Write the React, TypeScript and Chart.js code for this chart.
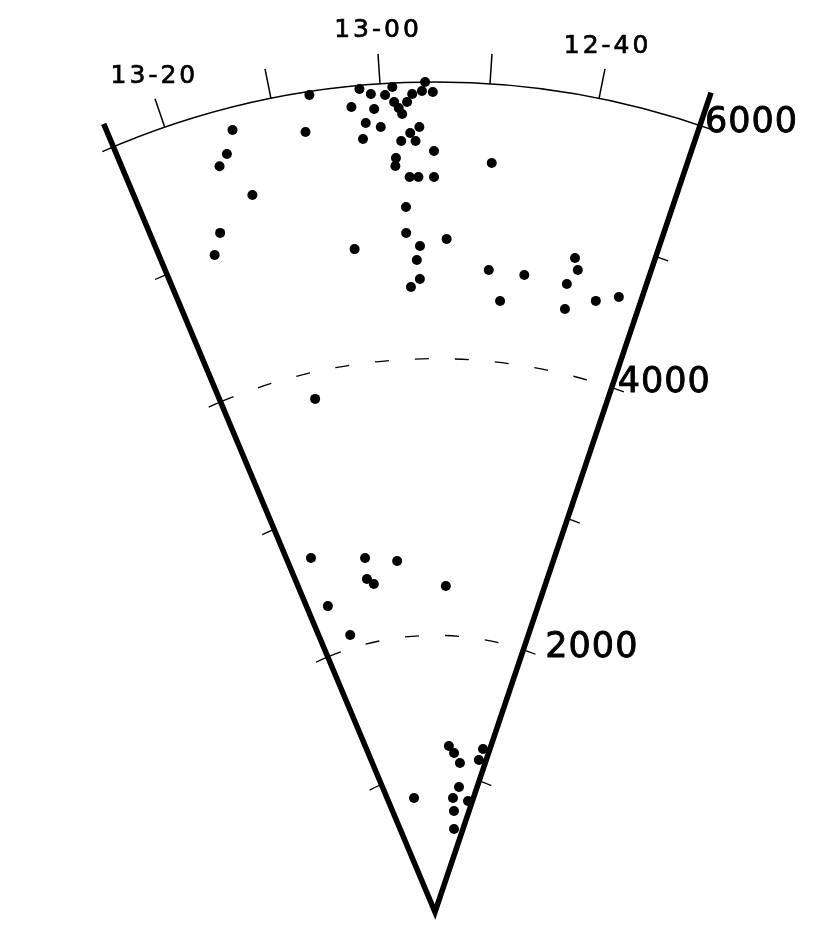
import React, { useEffect, useRef } from "react";
import { Chart, registerables } from "chart.js";

Chart.register(...registerables);

// Right ascension of each galaxy, in minutes past 12h00m
const RA_MIN = [
  66.5, 61.9, 60.9, 59.6, 58.9, 55.9, 56.2, 55.2, 57.1, 57.6,
  58.8, 58.4, 58.1, 62.8, 60.7, 61.6, 60.2, 67.4, 62.0, 58.3,
  57.4, 56.5, 56.9, 55.1, 58.9, 59.0, 57.6, 56.7, 55.1, 74.1,
  75.2, 76.2, 73.8, 78.1, 79.4, 58.1, 58.2, 64.1, 56.7, 53.7,
  57.1, 56.8, 57.9, 49.3, 48.7, 47.0, 44.5, 39.1, 38.5, 39.4,
  39.0, 35.6, 33.1, 72.3, 80.4, 69.7, 63.1, 70.2, 68.9, 52.5,
  80.4, 77.4, 48.7, 46.0, 42.5, 33.4, 33.8, 40.7, 43.2, 33.2,
  68.7, 41.0, 38.0,
];

// Radial velocity of each galaxy, km/s
const VELOCITY = [
  5976, 5975, 5931, 5917, 5972, 6000, 5936, 5928, 5916, 5859,
  5863, 5818, 5774, 5851, 5822, 5725, 5688, 5716, 5612, 5579,
  5634, 5676, 5575, 5501, 5458, 5401, 5316, 5315, 5313, 5839,
  5682, 5612, 5349, 5149, 5009, 5101, 4913, 4827, 4816, 4866,
  4715, 4577, 4522, 5430, 4657, 4442, 4650, 4835, 4755, 4639,
  4459, 4568, 4640, 3809, 2712, 2609, 2552, 2457, 2412, 2358,
  2343, 2094, 1204, 1158, 1092, 1228, 1144, 920, 834, 837,
  838, 743, 615,
];

// RA ticks (minutes past 12h) and their labels
const RA_TICKS = [40, 50, 60, 70, 80];
const RA_TICK_LABELS = ["12-40", "", "13-00", "", "13-20"];

// Velocity ticks along the wedge edges, dashed arcs, labelled values
const VEL_TICKS = [1000, 2000, 3000, 4000, 5000];
const VEL_DASHED = [2000, 4000];
const VEL_LABEL_VALUES = [2000, 4000, 6000];
const VEL_LABELS = ["2000", "4000", "6000"];
const OUTER_VEL = 6000;

// wedge limits in RA (minutes past 12h): 12h30.5m .. 13h25m
const WEDGE_RA = [30.5, 85];
const RA_CENTER = 55; // 12h55m points straight up
const DEG_PER_MIN = 0.76;

// layout (pixels)
const W = 830;
const H = 951;
const APEX_X = 435;
const APEX_Y = 912;
const PX_PER_KMS = 830 / 6000;
const VEL_LABEL_DX = [22, 6, 5];
const VEL_LABEL_DY = [-2, -5, -3];

const theta = (ra: number) => ((RA_CENTER - ra) * DEG_PER_MIN * Math.PI) / 180;
const toXY = (ra: number, v: number) => ({
  x: v * Math.sin(theta(ra)),
  y: v * Math.cos(theta(ra)),
});

const wedgePlugin = {
  id: "wedge",
  beforeDatasetsDraw(chart: any) {
    const { ctx } = chart;
    const xs = chart.scales.x;
    const ys = chart.scales.y;
    const cx = xs.getPixelForValue(0);
    const cy = ys.getPixelForValue(0);
    const rpx = (v: number) => xs.getPixelForValue(v) - cx;
    const pt = (ra: number, v: number) => {
      const p = toXY(ra, v);
      return { x: xs.getPixelForValue(p.x), y: ys.getPixelForValue(p.y) };
    };
    const scr = (ra: number) => theta(ra) - Math.PI / 2;
    const left = WEDGE_RA[1];
    const right = WEDGE_RA[0];

    ctx.save();
    ctx.strokeStyle = "#000";
    ctx.fillStyle = "#000";

    // outer arc with small overshoot
    const rOut = rpx(OUTER_VEL);
    const ext = 12 / rOut;
    ctx.lineWidth = 1.5;
    ctx.beginPath();
    ctx.arc(cx, cy, rOut, scr(left) - ext, scr(right) + ext, false);
    ctx.stroke();

    // dashed arcs
    ctx.lineWidth = 1.3;
    ctx.setLineDash([14, 26]);
    VEL_DASHED.forEach((v) => {
      ctx.beginPath();
      ctx.arc(cx, cy, rpx(v), scr(left), scr(right), false);
      ctx.stroke();
    });
    ctx.setLineDash([]);

    // edge ticks (short arcs outward)
    ctx.lineWidth = 1.3;
    VEL_TICKS.forEach((v) => {
      const r = rpx(v);
      const e = 13 / r;
      ctx.beginPath();
      ctx.arc(cx, cy, r, scr(left) - e, scr(left), false);
      ctx.stroke();
      ctx.beginPath();
      ctx.arc(cx, cy, r, scr(right), scr(right) + e, false);
      ctx.stroke();
    });

    // RA ticks
    ctx.lineWidth = 1.5;
    RA_TICKS.forEach((ra) => {
      const a = pt(ra, OUTER_VEL);
      const b = pt(ra, OUTER_VEL + 217);
      ctx.beginPath();
      ctx.moveTo(a.x, a.y);
      ctx.lineTo(b.x, b.y);
      ctx.stroke();
    });

    // wedge edges
    ctx.lineWidth = 5.5;
    ctx.lineCap = "butt";
    ctx.lineJoin = "miter";
    const pl = pt(left, 6180);
    const pr = pt(right, 6250);
    ctx.beginPath();
    ctx.moveTo(pl.x, pl.y);
    ctx.lineTo(cx, cy);
    ctx.lineTo(pr.x, pr.y);
    ctx.stroke();

    // RA labels
    ctx.font = "25px 'DejaVu Sans'";
    (ctx as any).letterSpacing = "3px";
    ctx.textAlign = "center";
    ctx.textBaseline = "middle";
    ctx.lineWidth = 0.7;
    RA_TICKS.forEach((ra, i) => {
      const lab = RA_TICK_LABELS[i];
      if (!lab) return;
      const p = pt(ra, OUTER_VEL + 385);
      const dx = i === 4 ? 7 : i === 0 ? -2 : 1.5;
      ctx.fillText(lab, p.x + dx, p.y);
      ctx.strokeText(lab, p.x + dx, p.y);
    });

    // velocity labels on right edge
    ctx.font = "35px 'DejaVu Sans'";
    (ctx as any).letterSpacing = "1px";
    ctx.textAlign = "left";
    ctx.lineWidth = 0.9;
    VEL_LABEL_VALUES.forEach((v, i) => {
      const p = pt(right, v);
      const tx = p.x + VEL_LABEL_DX[i];
      const ty = p.y + VEL_LABEL_DY[i];
      ctx.fillText(VEL_LABELS[i], tx, ty);
      ctx.strokeText(VEL_LABELS[i], tx, ty);
    });
    ctx.restore();
  },
};

export default function App() {
  const ref = useRef<HTMLCanvasElement | null>(null);
  useEffect(() => {
    if (!ref.current) return;
    const points = RA_MIN.map((ra, i) => toXY(ra, VELOCITY[i]));
    const chart = new Chart(ref.current, {
      type: "scatter",
      data: {
        datasets: [
          {
            data: points,
            backgroundColor: "#000",
            borderColor: "#000",
            borderWidth: 0,
            pointRadius: 5,
            pointHoverRadius: 5,
          },
        ],
      },
      options: {
        animation: false,
        responsive: false,
        events: [],
        layout: { padding: 0, autoPadding: false },
        plugins: { legend: { display: false }, tooltip: { enabled: false } },
        scales: {
          x: {
            type: "linear",
            display: false,
            min: -APEX_X / PX_PER_KMS,
            max: (W - APEX_X) / PX_PER_KMS,
          },
          y: {
            type: "linear",
            display: false,
            min: -(H - APEX_Y) / PX_PER_KMS,
            max: APEX_Y / PX_PER_KMS,
          },
        },
      },
      plugins: [wedgePlugin],
    });
    return () => chart.destroy();
  }, []);
  return (
    <div style={{ position: "absolute", left: 0, top: 0, width: W, height: H, background: "#fff" }}>
      <canvas ref={ref} width={W} height={H} />
    </div>
  );
}
